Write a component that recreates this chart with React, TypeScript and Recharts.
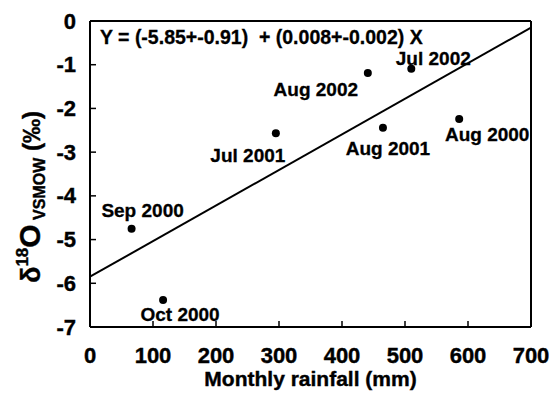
import React from "react";
import { ScatterChart, Scatter, XAxis, YAxis } from "recharts";

// monthly samples
const months = ["Sep 2000", "Oct 2000", "Jul 2001", "Aug 2001", "Aug 2000", "Aug 2002", "Jul 2002"];
const rainfall = [66, 116, 295, 465, 586, 441, 510];
const d18O = [-4.75, -6.38, -2.57, -2.44, -2.24, -1.19, -1.09];

// regression line end points
const fitX = [0, 700];
const fitY = [-5.85, -0.15];

const xTicks = [0, 100, 200, 300, 400, 500, 600, 700];
const yTicks = [0, -1, -2, -3, -4, -5, -6, -7];

const equation = "Y = (-5.85+-0.91)  + (0.008+-0.002) X";

// where each month label sits relative to its dot
const labelOffset: Record<string, [number, number]> = {
  "Sep 2000": [11, -18],
  "Oct 2000": [17, 15],
  "Jul 2001": [-28, 22],
  "Aug 2001": [5, 21],
  "Aug 2000": [28, 16],
  "Aug 2002": [-52, 16],
  "Jul 2002": [22, -10],
};

const FONT = "'Liberation Sans', Arial, Helvetica, sans-serif";

const points = months.map((m, i) => ({ name: m, x: rainfall[i], y: d18O[i] }));
const fitData = fitX.map((x, i) => ({ x, y: fitY[i] }));

function BottomTick({ x, y, payload }: any) {
  return (
    <g>
      <line x1={x} y1={y} x2={x} y2={y - 6} stroke="#000" strokeWidth={1.5} />
      <text x={x} y={y + 28} textAnchor="middle" dominantBaseline="central" fontSize={22} fontWeight="bold" fontFamily={FONT} fill="#000" stroke="#000" strokeWidth={0.4}>
        {payload.value}
      </text>
    </g>
  );
}

function LeftTick({ x, y, payload }: any) {
  return (
    <g>
      <line x1={x} y1={y} x2={x + 6} y2={y} stroke="#000" strokeWidth={1.5} />
      <text x={x - 14} y={y} textAnchor="end" dominantBaseline="central" fontSize={22} fontWeight="bold" fontFamily={FONT} fill="#000" stroke="#000" strokeWidth={0.4}>
        {payload.value}
      </text>
    </g>
  );
}

function TopTick({ x, y }: any) {
  return <line x1={x} y1={y} x2={x} y2={y + 6} stroke="#000" strokeWidth={1.5} />;
}

function RightTick({ x, y }: any) {
  return <line x1={x} y1={y} x2={x - 6} y2={y} stroke="#000" strokeWidth={1.5} />;
}

function Dot({ cx, cy, payload }: any) {
  const [dx, dy] = labelOffset[payload.name] ?? [0, 0];
  return (
    <g>
      <circle cx={cx} cy={cy} r={4} fill="#000" />
      <text x={cx + dx} y={cy + dy} textAnchor="middle" dominantBaseline="central" fontSize={19} fontWeight="bold" fontFamily={FONT} fill="#000" stroke="#000" strokeWidth={0.3}>
        {payload.name}
      </text>
    </g>
  );
}

export default function App() {
  return (
    <div style={{ position: "absolute", left: 0, top: 0, background: "#fff" }}>
      <ScatterChart width={552} height={400} margin={{ top: 20, right: 20, bottom: 13, left: 10 }}>
        <XAxis
          xAxisId={0}
          type="number"
          dataKey="x"
          domain={[0, 700]}
          ticks={xTicks}
          interval={0}
          tickSize={0}
          tickMargin={0}
          height={60}
          axisLine={{ stroke: "#000", strokeWidth: 2 }}
          tickLine={false}
          tick={<BottomTick />}
          label={{
            content: ({ viewBox }: any) => (
              <text x={viewBox.x + viewBox.width / 2} y={viewBox.y + 59} textAnchor="middle" fontSize={21} fontWeight="bold" fontFamily={FONT} fill="#000" stroke="#000" strokeWidth={0.4}>
                Monthly rainfall (mm)
              </text>
            ),
          }}
        />
        <XAxis
          xAxisId="top"
          orientation="top"
          type="number"
          domain={[0, 700]}
          ticks={xTicks}
          interval={0}
          tickSize={0}
          tickMargin={0}
          height={1}
          axisLine={{ stroke: "#000", strokeWidth: 2 }}
          tickLine={false}
          tick={<TopTick />}
          label={{
            content: ({ viewBox }: any) => (
              <text x={viewBox.x + 10} y={44} fontSize={19.5} fontWeight="bold" fontFamily={FONT} fill="#000" stroke="#000" strokeWidth={0.3} style={{ whiteSpace: "pre" }}>
                {equation}
              </text>
            ),
          }}
        />
        <YAxis
          yAxisId={0}
          type="number"
          dataKey="y"
          domain={[-7, 0]}
          ticks={yTicks}
          interval={0}
          tickSize={0}
          tickMargin={0}
          width={80}
          axisLine={{ stroke: "#000", strokeWidth: 2 }}
          tickLine={false}
          tick={<LeftTick />}
          label={{
            content: () => (
              <text transform="rotate(-90)" x={-197} y={40} textAnchor="middle" fontWeight="bold" fontFamily={FONT} fill="#000" stroke="#000" strokeWidth={0.4}>
                <tspan fontSize={27}>δ</tspan>
                <tspan fontSize={17} dy={-12}>18</tspan>
                <tspan fontSize={30} dy={12}>O</tspan>
                <tspan fontSize={16} dy={5}> VSMOW</tspan>
                <tspan fontSize={24} dy={-5}> (‰)</tspan>
              </text>
            ),
          }}
        />
        <YAxis
          yAxisId="right"
          orientation="right"
          type="number"
          domain={[-7, 0]}
          ticks={yTicks}
          interval={0}
          tickSize={0}
          tickMargin={0}
          width={1}
          axisLine={{ stroke: "#000", strokeWidth: 2 }}
          tickLine={false}
          tick={<RightTick />}
        />
        <Scatter
          data={fitData}
          line={{ stroke: "#000", strokeWidth: 2 }}
          shape={() => <g />}
          isAnimationActive={false}
        />
        <Scatter data={points} shape={<Dot />} isAnimationActive={false} />
      </ScatterChart>
    </div>
  );
}
